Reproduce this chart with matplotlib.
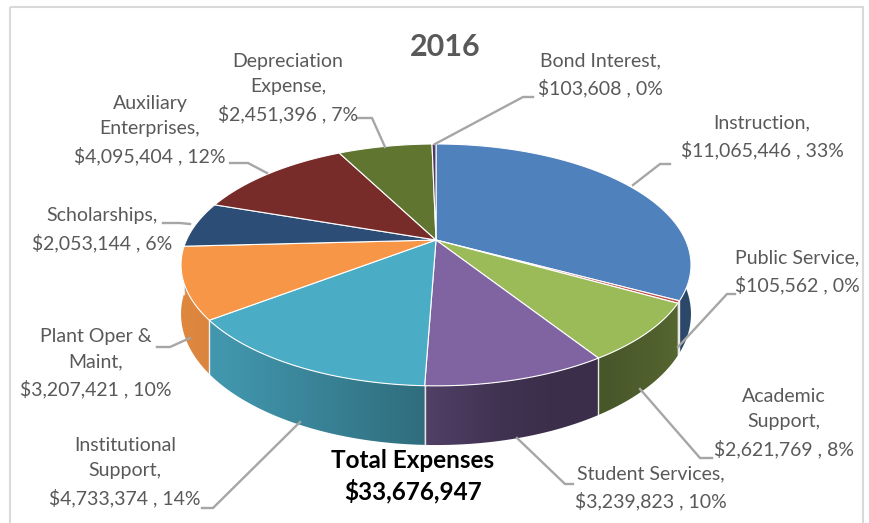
import numpy as np
import matplotlib
matplotlib.use("Agg")
import matplotlib.pyplot as plt
from matplotlib.patches import Polygon, Rectangle
import matplotlib.colors as mcolors

plt.rcParams["font.family"] = ["Lato", "DejaVu Sans"]

# ---------------- data ----------------
categories = ["Instruction", "Public Service", "Academic Support", "Student Services",
              "Institutional Support", "Plant Oper & Maint", "Scholarships",
              "Auxiliary Enterprises", "Depreciation Expense", "Bond Interest"]
label_names = ["Instruction,", "Public Service,", "Academic\nSupport,", "Student Services,",
               "Institutional\nSupport,", "Plant Oper &\nMaint,", "Scholarships,",
               "Auxiliary\nEnterprises,", "Depreciation\nExpense,", "Bond Interest,"]
values = [11065446, 105562, 2621769, 3239823, 4733374, 3207421, 2053144,
          4095404, 2451396, 103608]
colors = ["#4F81BD", "#C0504D", "#9BBB59", "#8064A2", "#4BACC6", "#F79646",
          "#2C4D75", "#772C2A", "#5F7530", "#4D3B62"]
title = "2016"
total_title = "Total Expenses"

# ---------------- layout (pixel space) ----------------
W, H = 870, 523
CX, CY = 436, 240        # apex of pie
R, RS = 249.5, 115.8     # horizontal radius, vertical (tilted) radius
K = 0.206                # perspective factor
DEPTH = 47               # side thickness
LABEL_COLOR = "#595959"
LEADER_COLOR = "#A6A6A6"

label_pos = {
    "Instruction": (762, 137),
    "Public Service": (797, 272),
    "Academic Support": (784, 423),
    "Student Services": (651, 488),
    "Institutional Support": (125, 472),
    "Plant Oper & Maint": (96, 363),
    "Scholarships": (102, 230),
    "Auxiliary Enterprises": (150, 130),
    "Depreciation Expense": (288, 88),
    "Bond Interest": (600, 75),
}
leaders = {
    "Instruction": [(670, 164), (660, 164), (633, 185)],
    "Public Service": [(735, 294), (727, 294), (678, 347)],
    "Academic Support": [(712, 458), (700, 458), (640, 389)],
    "Student Services": [(573, 484), (565, 484), (517, 438)],
    "Institutional Support": [(202, 508), (213, 508), (300, 422)],
    "Plant Oper & Maint": [(157, 347), (170, 347), (190, 338)],
    "Scholarships": [(163, 223), (180, 223), (190, 224)],
    "Auxiliary Enterprises": [(230, 163), (248, 163), (267, 173)],
    "Depreciation Expense": [(358, 118), (372, 118), (385, 147)],
    "Bond Interest": [(533, 97), (523, 97), (435, 144)],
}

SHADE_X = [-1.0, -0.8, 0.0, 0.25, 0.5, 0.7, 0.9, 1.0]
SHADE_F = [0.90, 0.86, 0.62, 0.50, 0.46, 0.47, 0.52, 0.56]


def proj(theta_deg, drop=0.0):
    t = np.radians(theta_deg)
    x = np.sin(t)
    z = -np.cos(t)
    w = 1 - K * z
    return CX + R * x / w, CY + RS * z / w + drop / w


def shade_factor(X):
    x = np.clip((X - CX) / R, -1, 1)
    return np.interp(x, SHADE_X, SHADE_F)


fig = plt.figure(figsize=(W / 100, H / 100), dpi=100)
ax = fig.add_axes([0, 0, 1, 1])

total = float(sum(values))
fracs = np.array(values) / total
ends = np.cumsum(fracs) * 360.0
starts = ends - fracs * 360.0

# ---- side (front half) with horizontal shading gradient ----
for s, e, c in zip(starts, ends, colors):
    a0, a1 = max(s, 90.0), min(e, 270.0)
    if a1 <= a0:
        continue
    n = max(2, int(np.ceil((a1 - a0) / 0.5)))
    ts = np.linspace(a0, a1, n + 1)
    top = [proj(t) for t in ts]
    bot = [proj(t, DEPTH) for t in ts[::-1]]
    pts = np.array(top + bot)
    xmin, xmax = pts[:, 0].min() - 2, pts[:, 0].max() + 2
    ymin, ymax = pts[:, 1].min() - 2, pts[:, 1].max() + 2
    xs = np.linspace(xmin, xmax, 200)
    rgb = np.array(mcolors.to_rgb(c))
    img = (shade_factor(xs)[:, None] * rgb[None, :])[None, :, :]
    img = np.repeat(img, 2, axis=0)
    poly = Polygon(pts, closed=True, facecolor="none", edgecolor="none")
    ax.add_patch(poly)
    im = ax.imshow(img, extent=(xmin, xmax, ymax, ymin), aspect="auto",
                   interpolation="bilinear", zorder=1)
    im.set_clip_path(poly)
for b in ends:
    if 90 < b < 270:
        (x0, y0), (x1, y1) = proj(b), proj(b, DEPTH)
        ax.plot([x0, x1], [y0, y1], color="white", lw=1.0, alpha=0.85, zorder=2)

# ---- top surface ----
for s, e, c in zip(starts, ends, colors):
    n = max(2, int(np.ceil((e - s) / 0.5)))
    ts = np.linspace(s, e, n + 1)
    pts = [(CX, CY)] + [proj(t) for t in ts]
    ax.add_patch(Polygon(pts, closed=True, facecolor=c, edgecolor="white", lw=0.8,
                         zorder=3))

# ---- labels ----
for cat, name, v, fr in zip(categories, label_names, values, fracs):
    x, y = label_pos[cat]
    txt = f"{name}\n${v:,} , {round(fr * 100):.0f}%"
    ax.text(x, y, txt, ha="center", va="center", fontsize=14, color=LABEL_COLOR,
            linespacing=1.6, zorder=5)
    pts = leaders[cat]
    ax.plot([p[0] for p in pts], [p[1] for p in pts], color=LEADER_COLOR, lw=1.7,
            solid_joinstyle="miter", zorder=4)

ax.text(445, 47, title, ha="center", va="center", fontsize=22, fontweight="bold",
        color=LABEL_COLOR, zorder=5)
ax.text(413, 476, f"{total_title}\n${int(total):,}", ha="center", va="center",
        fontsize=17.5, fontweight="bold", color="black", linespacing=1.35, zorder=5)

# frame
ax.add_patch(Rectangle((10, 7), 853, 530, fill=False, edgecolor="#D9D9D9", lw=1.5,
                       zorder=0))

ax.set_xlim(0, W)
ax.set_ylim(H, 0)
ax.axis("off")

fig.savefig("out.png", dpi=100)
